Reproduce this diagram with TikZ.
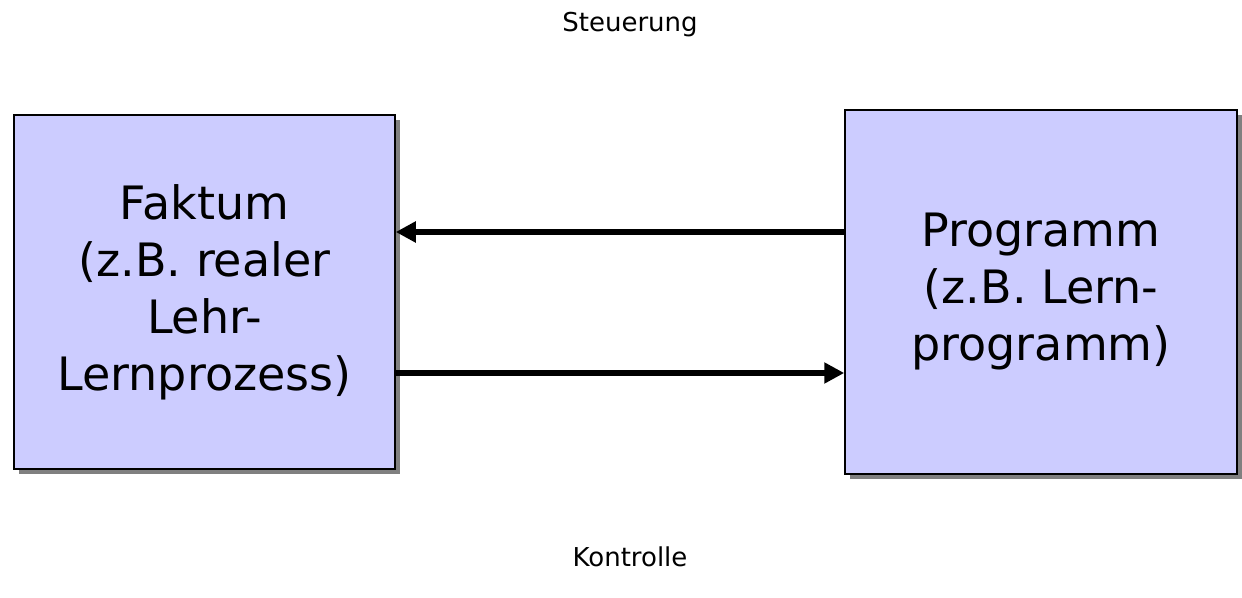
\documentclass[tikz,border=0pt]{standalone}
\usepackage{fontspec}
\setmainfont{DejaVu Sans}
\usepackage{tikz}
\usetikzlibrary{arrows.meta,shadows,positioning}
\definecolor{boxblue}{HTML}{CCCCFF}
\definecolor{shadowgray}{HTML}{808080}

\begin{document}
\begin{tikzpicture}[x=1pt,y=1pt,
		block/.style={draw=black, line width=1.5pt, fill=boxblue, align=center, inner sep=0pt,
			font=\fontsize{46}{57}\selectfont,
			drop shadow={shadow xshift=5pt, shadow yshift=-5pt, fill=shadowgray, opacity=1}},
		flow/.style={line width=6pt, -{Triangle[length=20pt,width=20pt]}},
		caption/.style={font=\fontsize{26}{30}\selectfont}]
		\useasboundingbox (0,0) rectangle (1242,597);
		\node (faktum) [block, minimum width=381pt, minimum height=354pt] at (204.5,305)
		{Faktum\\(z.B. realer\\Lehr-\\Lernprozess)};
		\node (programm) [block, minimum width=392pt, minimum height=364pt] at (1041,305)
		{Programm\\(z.B. Lern-\\programm)};
		\node (steuerung) [caption] at (630,572) {Steuerung};
		\node (kontrolle) [caption] at (630,40) {Kontrolle};
		\draw[flow] ([yshift=60pt]programm.west) -- ([yshift=60pt]programm.west -| faktum.east);
		\draw[flow] ([yshift=-81pt]faktum.east) -- ([yshift=-81pt]faktum.east -| programm.west);
	\end{tikzpicture}
\end{document}
